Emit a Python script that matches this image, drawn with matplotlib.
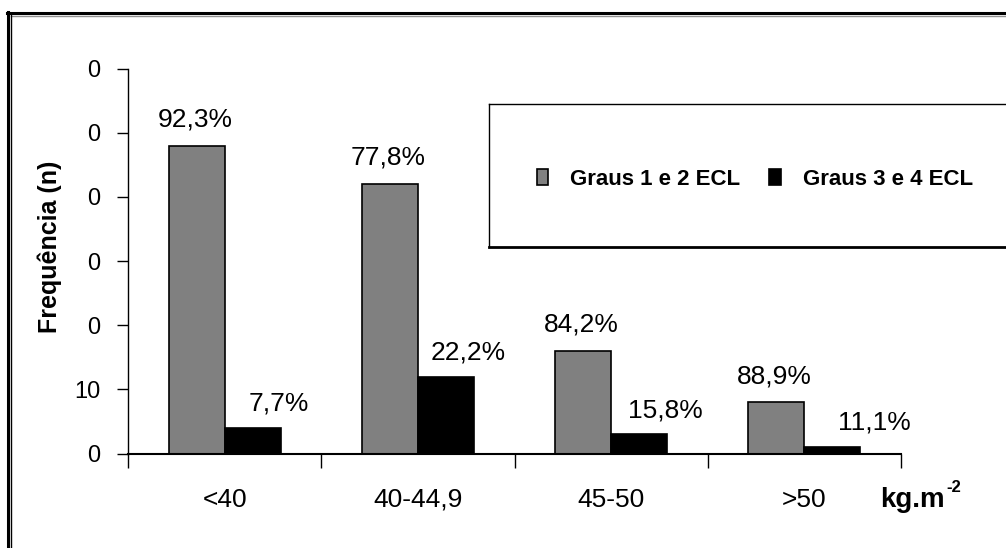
import numpy as np
import matplotlib
matplotlib.use("Agg")
from matplotlib import pyplot as plt
from matplotlib.lines import Line2D

plt.rcParams['font.family'] = ['Liberation Sans', 'DejaVu Sans']

categories = ['<40', '40-44,9', '45-50', '>50']
graus_12 = [48, 42, 16, 8]
graus_34 = [4, 12, 3, 1]
yticks = [0, 10, 20, 30, 40, 50, 60]
ytick_labels = ['0', '10', '0', '0', '0', '0', '0']

W, H = 1006, 548

def fx(px):
    return px / W

def fy(py):
    return 1 - py / H

fig = plt.figure(figsize=(W / 100, H / 100), dpi=100)
ax = fig.add_axes([fx(128.3), fy(453.7), fx(901) - fx(128.3), fy(68.5) - fy(453.7)])

x = np.arange(len(categories))
w = 0.29
b1 = ax.bar(x - w / 2, graus_12, w, color='#808080', edgecolor='black', linewidth=1.2,
            label='Graus 1 e 2 ECL', clip_on=False)
b2 = ax.bar(x + w / 2, graus_34, w, color='black', edgecolor='black', linewidth=1.2,
            label='Graus 3 e 4 ECL', clip_on=False)

# percentages of each group
tot = [a + b for a, b in zip(graus_12, graus_34)]
dx_black = [0.135, 0.113, 0.133, 0.215]
for i in range(len(categories)):
    p1 = 100.0 * graus_12[i] / tot[i]
    p2 = 100.0 * graus_34[i] / tot[i]
    ax.text(x[i] - w / 2 - 0.01, graus_12[i] + 4.1, ('%.1f%%' % p1).replace('.', ','),
            ha='center', va='center', fontsize=19)
    ax.text(x[i] + w / 2 + dx_black[i], graus_34[i] + 3.8, ('%.1f%%' % p2).replace('.', ','),
            ha='center', va='center', fontsize=19)

ax.set_xlim(-0.5, len(categories) - 0.5)
ax.set_ylim(0, 60)
ax.set_yticks(yticks)
ax.set_yticklabels(ytick_labels, fontsize=17)
ax.set_xticks(np.arange(len(categories) + 1) - 0.5)
ax.set_xticklabels([])
ax.tick_params(axis='y', direction='out', length=8, width=1, pad=12)
ax.tick_params(axis='x', direction='out', length=10, width=1)
for i, c in enumerate(categories):
    ax.text(x[i], -7.2, c, ha='center', va='center', fontsize=19)

ax.spines['top'].set_visible(False)
ax.spines['right'].set_visible(False)
ax.spines['bottom'].set_linewidth(1.5)
ax.spines['left'].set_linewidth(1)

fig.text(fx(50), fy(247), 'Frequência (n)', rotation=90, ha='center', va='center',
         fontsize=18, fontweight='bold')
fig.text(fx(880), fy(500), 'kg.m', ha='left', va='center', fontsize=20, fontweight='bold')
fig.text(fx(946), fy(487), '-2', ha='left', va='center', fontsize=12, fontweight='bold')

# legend box
fig.add_artist(Line2D([fx(489), fx(489)], [fy(104), fy(247)], color='black', lw=1))
fig.add_artist(Line2D([fx(489), 1.0], [fy(104), fy(104)], color='black', lw=1))
fig.add_artist(Line2D([fx(489), 1.0], [fy(247), fy(247)], color='black', lw=2))
fig.legend(handles=[b1, b2], loc='center', bbox_to_anchor=(fx(755), fy(179)), ncol=2,
           frameon=False, prop={'weight': 'bold', 'size': 16}, handlelength=0.5,
           handleheight=0.7, handletextpad=1.0, columnspacing=1.3)

# outer frame
fig.add_artist(Line2D([fx(7), 1.0], [fy(13), fy(13)], color='black', lw=2.2))
fig.add_artist(Line2D([fx(10.5), 1.0], [fy(15.5), fy(15.5)], color='#909090', lw=1))
fig.add_artist(Line2D([fx(8), fx(8)], [fy(12), 0], color='black', lw=2.2))
fig.add_artist(Line2D([fx(10.8), fx(10.8)], [fy(15), 0], color='black', lw=1))

fig.savefig('out.png', dpi=100)
